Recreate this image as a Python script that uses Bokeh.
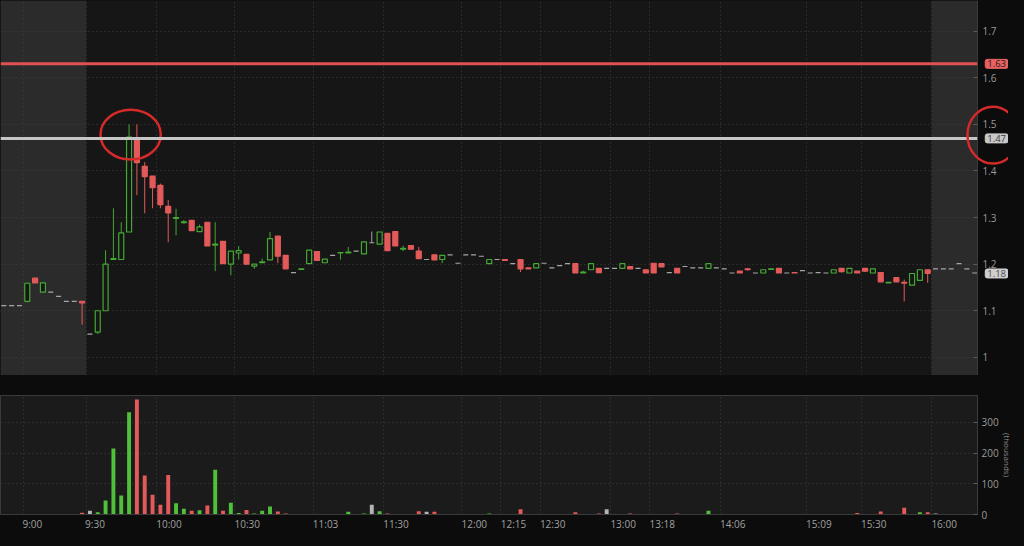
import numpy as np
from bokeh.plotting import figure
from bokeh.layouts import column
from bokeh.core.properties import value
from bokeh.models import (Range1d, FixedTicker, BoxAnnotation, Span, ColumnDataSource)
from bokeh.embed import file_html
from bokeh.resources import INLINE

# ---------------- data (3-minute bars, index based) ----------------
opens = [1.111, 1.111, 1.111, 1.120, 1.170, 1.140, 1.140, 1.131, 1.120, 1.120,
         1.120, 1.050, 1.054, 1.100, 1.210, 1.210, 1.269, 1.470, 1.410, 1.389,
         1.369, 1.324, 1.298, 1.289, 1.294, 1.270, 1.290, 1.241, 1.249, 1.200,
         1.224, 1.221, 1.196, 1.203, 1.209, 1.260, 1.219, 1.182, 1.189, 1.201,
         1.227, 1.203, 1.219, 1.224, 1.224, 1.228, 1.222, 1.246, 1.243, 1.266,
         1.270, 1.232, 1.240, 1.228, 1.210, 1.220, 1.210, 1.220, 1.202, 1.220,
         1.220, 1.217, 1.201, 1.210, 1.210, 1.201, 1.210, 1.192, 1.192, 1.202,
         1.192, 1.197, 1.201, 1.201, 1.181, 1.188, 1.191, 1.191, 1.191, 1.191,
         1.195, 1.191, 1.188, 1.202, 1.201, 1.182, 1.191, 1.195, 1.192, 1.192,
         1.191, 1.192, 1.190, 1.181, 1.185, 1.190, 1.181, 1.181, 1.189, 1.191,
         1.181, 1.182, 1.186, 1.181, 1.182, 1.181, 1.181, 1.191, 1.181, 1.185,
         1.191, 1.181, 1.182, 1.160, 1.171, 1.161, 1.155, 1.165, 1.188, 1.190,
         1.190, 1.190, 1.201, 1.190, 1.181]
highs = [1.111, 1.111, 1.111, 1.160, 1.170, 1.160, 1.140, 1.131, 1.120, 1.120,
         1.120, 1.050, 1.100, 1.230, 1.320, 1.290, 1.500, 1.500, 1.419, 1.389,
         1.373, 1.338, 1.319, 1.295, 1.294, 1.285, 1.290, 1.290, 1.249, 1.228,
         1.239, 1.221, 1.200, 1.212, 1.269, 1.260, 1.219, 1.182, 1.190, 1.230,
         1.227, 1.211, 1.219, 1.225, 1.237, 1.228, 1.248, 1.270, 1.269, 1.266,
         1.270, 1.240, 1.240, 1.237, 1.210, 1.220, 1.219, 1.220, 1.202, 1.220,
         1.220, 1.217, 1.210, 1.210, 1.210, 1.201, 1.210, 1.192, 1.201, 1.202,
         1.192, 1.197, 1.201, 1.201, 1.186, 1.201, 1.191, 1.191, 1.191, 1.201,
         1.195, 1.191, 1.188, 1.202, 1.201, 1.182, 1.191, 1.195, 1.192, 1.192,
         1.201, 1.192, 1.190, 1.181, 1.185, 1.191, 1.181, 1.188, 1.190, 1.191,
         1.181, 1.182, 1.186, 1.181, 1.182, 1.181, 1.188, 1.191, 1.191, 1.185,
         1.191, 1.190, 1.182, 1.161, 1.171, 1.167, 1.180, 1.188, 1.188, 1.190,
         1.190, 1.190, 1.201, 1.190, 1.181]
lows = [1.111, 1.111, 1.111, 1.118, 1.160, 1.140, 1.140, 1.131, 1.120, 1.120,
        1.070, 1.050, 1.050, 1.100, 1.210, 1.210, 1.269, 1.348, 1.309, 1.320,
        1.320, 1.247, 1.262, 1.287, 1.272, 1.270, 1.239, 1.185, 1.201, 1.176,
        1.210, 1.200, 1.190, 1.203, 1.209, 1.202, 1.190, 1.182, 1.189, 1.201,
        1.208, 1.203, 1.219, 1.210, 1.224, 1.228, 1.222, 1.246, 1.243, 1.229,
        1.239, 1.228, 1.232, 1.212, 1.210, 1.209, 1.202, 1.220, 1.202, 1.220,
        1.220, 1.217, 1.201, 1.210, 1.208, 1.201, 1.183, 1.190, 1.192, 1.202,
        1.192, 1.197, 1.201, 1.181, 1.181, 1.188, 1.182, 1.191, 1.191, 1.191,
        1.190, 1.191, 1.181, 1.181, 1.194, 1.182, 1.181, 1.195, 1.192, 1.192,
        1.191, 1.192, 1.190, 1.181, 1.181, 1.186, 1.181, 1.181, 1.189, 1.181,
        1.181, 1.181, 1.186, 1.181, 1.182, 1.181, 1.181, 1.182, 1.181, 1.181,
        1.183, 1.181, 1.162, 1.160, 1.162, 1.120, 1.155, 1.165, 1.160, 1.190,
        1.190, 1.190, 1.201, 1.190, 1.181]
closes = [1.111, 1.111, 1.111, 1.159, 1.160, 1.160, 1.140, 1.131, 1.120, 1.120,
          1.117, 1.050, 1.100, 1.200, 1.212, 1.267, 1.473, 1.418, 1.388, 1.364,
          1.328, 1.310, 1.300, 1.291, 1.272, 1.280, 1.239, 1.243, 1.201, 1.228,
          1.229, 1.200, 1.200, 1.205, 1.255, 1.217, 1.190, 1.182, 1.190, 1.230,
          1.208, 1.211, 1.219, 1.225, 1.226, 1.228, 1.248, 1.246, 1.269, 1.229,
          1.239, 1.234, 1.232, 1.212, 1.210, 1.209, 1.219, 1.220, 1.202, 1.220,
          1.220, 1.217, 1.210, 1.210, 1.208, 1.201, 1.190, 1.190, 1.201, 1.202,
          1.192, 1.197, 1.201, 1.181, 1.183, 1.201, 1.182, 1.191, 1.191, 1.201,
          1.190, 1.191, 1.181, 1.181, 1.194, 1.182, 1.181, 1.195, 1.192, 1.192,
          1.201, 1.192, 1.190, 1.181, 1.181, 1.188, 1.181, 1.188, 1.190, 1.181,
          1.181, 1.181, 1.186, 1.181, 1.182, 1.181, 1.188, 1.184, 1.191, 1.181,
          1.185, 1.190, 1.162, 1.161, 1.162, 1.159, 1.180, 1.188, 1.180, 1.190,
          1.190, 1.190, 1.201, 1.190, 1.181]
volumes = [0, 0, 0, 1, 1, 1, 0, 0, 0, 0,
           6, 12, 7, 46, 215, 62, 333, 375, 127, 64,
           32, 129, 37, 19, 12, 14, 29, 146, 12, 38,
           5, 15, 3, 12, 26, 10, 3, 0, 0, 2,
           0, 2, 0, 0, 9, 0, 3, 32, 11, 3,
           0, 0, 0, 11, 9, 9, 2, 0, 0, 0,
           0, 0, 3, 0, 0, 0, 17, 0, 0, 0,
           0, 0, 0, 7, 0, 0, 3, 17, 0, 2,
           3, 0, 0, 0, 0, 0, 3, 0, 0, 0,
           12, 0, 0, 0, 0, 0, 0, 0, 0, 0,
           0, 0, 0, 0, 0, 0, 0, 0, 0, 5,
           0, 0, 10, 0, 0, 22, 0, 7, 7, 3,
           0, 0, 0, 0, 0]

time_labels = ["9:00", "9:30", "10:00", "10:30", "11:03", "11:30", "12:00", "12:15",
               "12:30", "13:00", "13:18", "14:06", "15:09", "15:30", "16:00"]
time_bar_pos = [2.5, 10.5, 19.5, 29.5, 39.5, 48.5, 58.5, 63.5,
                68.5, 77.5, 82.5, 91.5, 102.5, 109.5, 118.5]
price_ticks = [1.0, 1.1, 1.2, 1.3, 1.4, 1.5, 1.6, 1.7]
price_tick_labels = ["1", "1.1", "1.2", "1.3", "1.4", "1.5", "1.6", "1.7"]
vol_ticks = [0, 100, 200, 300]
vol_tick_labels = ["0", "100", "200", "300"]
level_red = 1.63
level_white = 1.47
last_price = 1.18
badge_values = [level_red, level_white, last_price]
badge_texts = ["1.63", "1.47", "1.18"]
session_open_pos = 10.5
session_close_pos = 118.5

# ---------------- styling ----------------
BG = "#161616"
VBG = "#1b1b1b"
AXBG = "#0c0c0c"
GREEN = "#45a834"
VGREEN = "#4fc03a"
RED = "#e35a5a"
GRAY = "#a6a6a6"
GRID = "#3e3e3e"
CIRCLE = "#d42a2a"
FONT = "Open Sans"

n = len(opens)
idx = list(range(n))
col, fill, vcol = [], [], []
for o, c in zip(opens, closes):
    if c > o:
        col.append(GREEN); fill.append(BG); vcol.append(VGREEN)
    elif c < o:
        col.append(RED); fill.append(RED); vcol.append(RED)
    else:
        col.append(GRAY); fill.append(GRAY); vcol.append("#b4b4b4")

src = ColumnDataSource(dict(
    x=idx, o=opens, h=highs, l=lows, c=closes,
    top=[max(a, b) for a, b in zip(opens, closes)],
    bot=[min(a, b) for a, b in zip(opens, closes)],
    col=col, fill=fill, vol=volumes, vcol=vcol))

x_range = Range1d(-0.42, 124.36)
FW = 977
RB = 31

price = figure(frame_width=FW, frame_height=375, x_range=x_range,
               y_range=Range1d(0.961, 1.766), output_backend="svg",
               toolbar_location=None, x_axis_location=None, y_axis_location="right",
               min_border_left=0, min_border_top=0, min_border_bottom=0,
               min_border_right=RB, background_fill_color=BG,
               border_fill_color=AXBG, outline_line_color=None)

# session shading
price.add_layout(BoxAnnotation(right=session_open_pos, fill_color="#2b2b2b", fill_alpha=1,
                               line_color=None, level="image"))
price.add_layout(BoxAnnotation(left=session_close_pos, fill_color="#2b2b2b", fill_alpha=1,
                               line_color=None, level="image"))

for g in (price.xgrid, price.ygrid):
    g.grid_line_color = GRID
    g.grid_line_dash = "1 3"
    g.grid_line_width = 1
price.xgrid.ticker = FixedTicker(ticks=time_bar_pos)
price.ygrid.ticker = FixedTicker(ticks=price_ticks)

ya = price.yaxis[0]
ya.ticker = FixedTicker(ticks=price_ticks)
ya.major_label_overrides = dict(zip(price_ticks, price_tick_labels))
ya.axis_line_color = "#3a3a3a"
ya.major_tick_in = 4
ya.major_tick_out = 0
ya.major_tick_line_color = "#5a5a5a"
ya.minor_tick_line_color = None
ya.major_label_text_color = "#9a9a9a"
ya.major_label_text_font = FONT
ya.major_label_text_font_size = "10px"
ya.major_label_standoff = 5

# levels
price.add_layout(Span(location=level_red, dimension="width", line_color="#e05252",
                      line_width=3))
price.add_layout(Span(location=level_white, dimension="width", line_color="#c6c6c6",
                      line_width=3))

# candles
price.segment(x0="x", y0="l", x1="x", y1="h", color="col", line_width=1, source=src)
price.vbar(x="x", width=0.64, top="top", bottom="bot", fill_color="fill",
           line_color="col", line_width=1.2, source=src)

# annotation circles (overlay level so the right one can reach into the axis area)
price.ellipse(x=[16.2], y=[1.478], width=7.7, height=0.107, fill_alpha=0,
              line_color=CIRCLE, line_width=2.5)
price.ellipse(x=[126.33], y=[1.477], width=6.5, height=0.122, fill_alpha=0,
              line_color=CIRCLE, line_width=2.5, level="overlay")

# price badges
badge_src = ColumnDataSource(dict(
    x=[125.35] * 3, y=badge_values, text=badge_texts,
    bg=["#e86262", "#c8c8c8", "#cfcfcf"], tc=["#2a1a1a", "#3a3a3a", "#4a4a4a"]))
price.text(x="x", y="y", text="text", source=badge_src, text_align="left",
           text_baseline="middle", text_font=value(FONT), text_font_size=value("9.5px"),
           text_color="tc", background_fill_color="bg", border_line_color="bg",
           padding=(2, 1), border_radius=2, level="overlay")

# ---------------- volume ----------------
vol = figure(frame_width=FW, frame_height=119, x_range=x_range,
             y_range=Range1d(0, 388), output_backend="svg", toolbar_location=None,
             y_axis_location="right", min_border_left=0, min_border_top=20,
             min_border_bottom=16, min_border_right=RB,
             background_fill_color=VBG, border_fill_color=AXBG,
             outline_line_color="#3a3a3a")
for g in (vol.xgrid, vol.ygrid):
    g.grid_line_color = GRID
    g.grid_line_dash = "1 3"
vol.xgrid.ticker = FixedTicker(ticks=time_bar_pos)
vol.ygrid.ticker = FixedTicker(ticks=vol_ticks)

vol.vbar(x="x", width=0.5, top="vol", bottom=0, fill_color="vcol", line_color=None,
         source=src)

label_pos = [round(p + (1.15 if len(s) == 4 else 1.6), 2)
             for p, s in zip(time_bar_pos, time_labels)]
xa = vol.xaxis[0]
xa.ticker = FixedTicker(ticks=label_pos)
xa.major_label_overrides = dict(zip(label_pos, time_labels))
xa.major_tick_in = 0
xa.major_tick_out = 0
xa.minor_tick_line_color = None
xa.axis_line_color = "#3a3a3a"
xa.major_label_text_color = "#a0a0a0"
xa.major_label_text_font = FONT
xa.major_label_text_font_size = "10px"
xa.major_label_standoff = 2

va = vol.yaxis[0]
va.ticker = FixedTicker(ticks=vol_ticks)
va.major_label_overrides = dict(zip(vol_ticks, vol_tick_labels))
va.axis_line_color = "#3a3a3a"
va.major_tick_in = 4
va.major_tick_out = 0
va.major_tick_line_color = "#5a5a5a"
va.minor_tick_line_color = None
va.major_label_text_color = "#9a9a9a"
va.major_label_text_font = FONT
va.major_label_text_font_size = "10px"
va.major_label_standoff = 4
va.axis_label = "(thousands)"
va.axis_label_text_color = "#8a8a8a"
va.axis_label_text_font = FONT
va.axis_label_text_font_size = "8px"
va.axis_label_text_font_style = "normal"
va.axis_label_standoff = 0

layout = column(price, vol, spacing=0, styles={"background-color": AXBG})

html = file_html(layout, INLINE, title="chart")
html = html.replace("<body>", '<body style="background-color:#0c0c0c">')
open("out.html", "w").write(html)
